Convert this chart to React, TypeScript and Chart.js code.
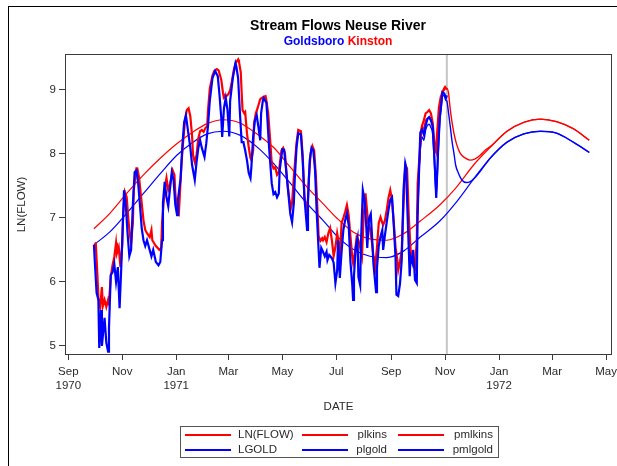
import React, { useEffect, useRef } from "react";
import { Chart, registerables } from "chart.js";

Chart.register(...registerables);

const FONT = "'Liberation Sans', Arial, Helvetica, sans-serif";
const RED = "#ff0000";
const BLUE = "#0000ff";
const AXIS = "#3a3a3a";
const TEXT = "#2a2a2a";

// Horizontal positions are days counted from 1 Sep 1970.
const MONTH_TICKS = [0, 61, 122, 181, 242, 303, 365, 426, 487, 547, 608];
const MONTH_LABELS: (string | string[])[] = [
  ["Sep", "1970"], "Nov", ["Jan", "1971"], "Mar", "May", "Jul", "Sep", "Nov", ["Jan", "1972"], "Mar", "May",
];
const Y_TICKS = [5, 6, 7, 8, 9];
const FORECAST_ORIGIN = 428;

// Goldsboro, log of daily flow
const LGOLD_DAYS = [
  29, 30, 32, 34, 35, 37, 38, 41, 43, 45, 46, 48, 50, 52, 54, 56, 57, 58, 60, 62,
  63, 65, 67, 69, 71, 73, 75, 77, 79, 81, 83, 85, 87, 89, 92, 94, 96, 99, 102, 104,
  106, 107, 109, 111, 113, 115, 117, 119, 121, 123, 124, 127, 129, 131, 133, 136, 138, 140, 143, 145,
  147, 149, 151, 154, 156, 158, 160, 163, 166, 169, 171, 173, 174, 176, 178, 180, 182, 183, 186, 189,
  190, 192, 194, 196, 198, 200, 202, 204, 206, 207, 209, 211, 213, 215, 217, 218, 220, 221, 224, 225,
  227, 230, 232, 234, 236, 238, 239, 242, 244, 246, 249, 251, 253, 255, 256, 258, 260, 263, 265, 267,
  270, 271, 273, 275, 277, 279, 281, 283, 284, 286, 288, 290, 292, 293, 295, 298, 300, 302, 304, 305,
  307, 309, 311, 313, 315, 317, 319, 321, 322, 323, 325, 327, 328, 330, 331, 333, 335, 337, 338, 340,
  342, 344, 345, 348, 349, 351, 353, 355, 356, 358, 360, 362, 364, 366, 368, 370, 371, 373, 375, 377,
  379, 381, 382, 383, 385, 386, 387, 389, 390, 392, 394, 395, 397, 398, 400, 402, 404, 406, 408, 410,
  412, 414, 416, 418, 420, 422, 423, 425, 427, 428,
];
const LGOLD = [
  6.58, 6.31, 5.83, 5.72, 4.97, 5.56, 5.0, 5.44, 5.05, 4.91, 5.28, 6.11, 6.15, 6.28, 6.0, 6.23, 5.91, 5.59, 6.26, 7.04,
  7.43, 7.2, 6.76, 6.4, 6.5, 7.2, 7.71, 7.74, 7.54, 7.2, 6.84, 6.65, 6.56, 6.65, 6.5, 6.4, 6.5, 6.31, 6.26, 6.31,
  6.65, 7.23, 7.56, 7.32, 7.18, 7.46, 7.71, 7.59, 7.2, 7.04, 7.28, 7.62, 8.13, 8.49, 8.6, 8.29, 8.09, 7.82, 7.59, 7.87,
  8.09, 8.21, 8.09, 7.95, 8.16, 8.44, 8.83, 9.18, 9.29, 9.21, 8.91, 8.55, 8.26, 8.71, 8.87, 8.68, 8.27, 8.83, 9.18, 9.41,
  9.36, 9.18, 8.65, 8.18, 8.18, 8.05, 7.9, 7.7, 7.62, 7.79, 8.26, 8.52, 8.6, 8.41, 8.21, 8.63, 8.83, 8.87, 8.79, 8.57,
  8.1, 7.54, 7.37, 7.4, 7.32, 7.38, 7.74, 8.07, 8.06, 7.79, 7.35, 7.06, 6.93, 7.23, 7.59, 8.09, 8.32, 8.3, 7.9, 7.31,
  6.81, 7.28, 7.9, 8.09, 8.05, 7.74, 7.04, 6.5, 6.22, 6.53, 6.47, 6.4, 6.47, 6.34, 6.42, 6.37, 6.3, 5.98, 6.18, 6.65,
  6.06, 6.47, 6.81, 6.96, 7.07, 6.89, 6.31, 5.97, 5.72, 6.09, 6.54, 6.68, 6.08, 5.95, 6.65, 7.43, 7.28, 6.84, 6.53, 6.99,
  7.06, 6.56, 6.28, 5.84, 6.22, 6.56, 6.71, 6.81, 6.5, 6.73, 6.93, 7.12, 7.28, 7.32, 6.89, 6.37, 5.8, 5.78, 5.97, 6.34,
  7.43, 7.85, 7.79, 7.28, 6.5, 6.09, 6.39, 6.3, 6.5, 6.03, 5.98, 7.09, 7.9, 8.33, 8.38, 8.3, 8.44, 8.54, 8.57, 8.52,
  8.43, 7.93, 7.31, 8.02, 8.55, 8.82, 8.96, 8.94, 8.87, 8.91,
];

// Kinston, log of daily flow
const LFLOW_DAYS = [
  31, 33, 34, 36, 38, 39, 41, 43, 45, 46, 48, 50, 52, 54, 55, 57, 59, 61, 62, 64,
  66, 68, 70, 71, 73, 74, 77, 78, 80, 83, 85, 87, 89, 92, 94, 95, 99, 103, 105, 106,
  108, 110, 111, 113, 114, 116, 118, 120, 121, 123, 125, 126, 128, 130, 132, 134, 136, 138, 140, 141,
  143, 145, 147, 149, 151, 153, 155, 157, 158, 160, 163, 165, 168, 170, 173, 175, 176, 179, 181, 183,
  185, 187, 189, 192, 193, 195, 196, 197, 199, 200, 202, 204, 206, 207, 209, 210, 212, 214, 217, 220,
  223, 224, 226, 228, 230, 232, 234, 236, 238, 241, 243, 245, 247, 250, 252, 253, 255, 258, 260, 263,
  265, 267, 269, 271, 272, 274, 276, 278, 280, 282, 283, 285, 287, 288, 290, 292, 294, 296, 298, 300,
  302, 304, 305, 307, 309, 311, 313, 315, 317, 319, 321, 322, 324, 326, 328, 330, 332, 334, 336, 337,
  339, 341, 343, 345, 347, 349, 351, 353, 355, 356, 358, 360, 362, 364, 366, 368, 370, 372, 373, 375,
  377, 379, 381, 383, 385, 387, 388, 390, 392, 394, 395, 397, 399, 400, 402, 404, 406, 408, 410, 412,
  414, 416, 417, 419, 421, 423, 425, 426, 428,
];
const LFLOW = [
  6.62, 6.08, 5.75, 5.61, 5.92, 5.62, 5.72, 5.61, 5.72, 5.67, 6.08, 6.26, 6.39, 6.61, 6.45, 6.54, 6.23, 6.58, 7.04, 7.4,
  7.32, 6.96, 6.7, 6.61, 6.92, 7.43, 7.77, 7.77, 7.63, 7.23, 6.96, 6.81, 6.76, 6.7, 6.81, 6.65, 6.56, 6.5, 6.53, 6.92,
  7.28, 7.54, 7.62, 7.43, 7.46, 7.59, 7.74, 7.67, 7.38, 7.12, 7.07, 7.32, 7.85, 8.21, 8.52, 8.68, 8.71, 8.58, 8.27, 7.98,
  7.87, 7.98, 8.24, 8.35, 8.37, 8.34, 8.4, 8.43, 8.68, 9.02, 9.22, 9.29, 9.32, 9.3, 9.15, 8.94, 8.87, 8.9, 8.93, 8.99,
  9.13, 9.3, 9.41, 9.47, 9.43, 9.27, 8.96, 8.68, 8.63, 8.65, 8.32, 8.1, 7.93, 7.9, 8.05, 8.47, 8.63, 8.71, 8.85, 8.88,
  8.9, 8.83, 8.63, 8.26, 7.85, 7.77, 7.79, 7.67, 7.71, 8.05, 8.09, 8.01, 7.63, 7.28, 7.17, 7.23, 7.63, 8.16, 8.37, 8.35,
  7.98, 7.31, 7.15, 7.28, 7.62, 8.01, 8.12, 8.05, 7.63, 7.04, 6.72, 6.64, 6.68, 6.65, 6.7, 6.62, 6.76, 6.84, 6.65, 6.4,
  6.54, 6.76, 6.68, 6.37, 6.92, 7.0, 7.09, 7.2, 7.04, 6.71, 6.4, 6.3, 6.45, 6.7, 6.65, 6.54, 6.4, 7.04, 7.38, 7.23,
  6.92, 6.84, 6.65, 6.4, 6.22, 6.54, 6.92, 7.01, 6.92, 6.89, 6.96, 7.12, 7.31, 7.43, 7.28, 6.92, 6.54, 6.34, 6.18, 6.31,
  6.5, 7.2, 7.82, 7.77, 7.01, 6.5, 6.42, 6.3, 6.23, 6.65, 7.54, 7.95, 8.37, 8.44, 8.52, 8.63, 8.65, 8.68, 8.63, 8.48,
  8.16, 8.05, 8.32, 8.72, 8.88, 8.96, 9.02, 9.04, 9.0,
];

// Seasonal fits
const SEASON_DAYS = [
  29, 47, 66, 85, 104, 123, 141, 157, 175, 194, 213, 232, 251, 270, 288, 304,
  322, 341, 360, 379, 398, 420, 439, 458, 477, 496, 515, 534, 552, 571, 589,
];
const PLKINS = [
  6.83, 7.07, 7.38, 7.67, 7.93, 8.16, 8.34, 8.47, 8.53, 8.48, 8.31, 8.1, 7.79, 7.48, 7.22, 6.99,
  6.78, 6.67, 6.65, 6.75, 6.95, 7.2, 7.48, 7.82, 8.1, 8.35, 8.49, 8.54, 8.5, 8.39, 8.21,
];
const PLGOLD = [
  6.58, 6.78, 7.07, 7.38, 7.69, 7.98, 8.18, 8.31, 8.35, 8.29, 8.11, 7.85, 7.54, 7.22, 6.96, 6.71,
  6.51, 6.4, 6.38, 6.48, 6.7, 6.95, 7.25, 7.6, 7.93, 8.18, 8.31, 8.35, 8.32, 8.18, 8.02,
];

// Model predictions and forecasts
const PMLKINS_DAYS = [
  395, 397, 399, 400, 402, 404, 406, 408, 410, 412, 414, 416, 417, 419, 421, 423, 425, 426, 428,
  430, 431, 433, 436, 439, 443, 449, 454, 460, 466, 471, 477, 496, 515, 534, 552, 571, 589,
];
const PMLKINS = [
  7.43, 7.87, 8.27, 8.35, 8.41, 8.52, 8.55, 8.57, 8.54, 8.4, 8.12, 8.01, 8.24, 8.65, 8.83, 8.94, 8.99, 9.02, 9.02,
  8.94, 8.8, 8.57, 8.32, 8.15, 8.01, 7.93, 7.9, 7.92, 7.98, 8.05, 8.11, 8.35, 8.49, 8.54, 8.5, 8.39, 8.21,
];
const PMLGOLD_DAYS = [
  395, 397, 399, 400, 402, 404, 406, 408, 410, 412, 414, 416, 418, 420, 422, 423, 425, 427, 428,
  430, 432, 434, 436, 438, 441, 445, 450, 454, 460, 466, 477, 496, 515, 534, 552, 571, 589,
];
const PMLGOLD = [
  7.04, 7.82, 8.21, 8.26, 8.21, 8.37, 8.44, 8.46, 8.41, 8.3, 7.82, 7.35, 7.93, 8.49, 8.77, 8.91, 8.9, 8.83, 8.82,
  8.63, 8.41, 8.18, 8.01, 7.82, 7.7, 7.59, 7.55, 7.56, 7.63, 7.73, 7.93, 8.18, 8.31, 8.35, 8.32, 8.18, 8.02,
];

const LEGEND_ITEMS = [
  { label: "LN(FLOW)", color: RED, col: 0, row: 0 },
  { label: "LGOLD", color: BLUE, col: 0, row: 1 },
  { label: "plkins", color: RED, col: 1, row: 0 },
  { label: "plgold", color: BLUE, col: 1, row: 1 },
  { label: "pmlkins", color: RED, col: 2, row: 0 },
  { label: "pmlgold", color: BLUE, col: 2, row: 1 },
];

const toPoints = (days: number[], vals: number[]) =>
  days.map((d, i) => ({ x: d, y: vals[i] }));

const framePlugin = {
  id: "frameAndOrigin",
  beforeDatasetsDraw(chart: any) {
    const { ctx, chartArea, scales } = chart;
    const x = scales.x.getPixelForValue(FORECAST_ORIGIN);
    ctx.save();
    ctx.strokeStyle = "#c6c6c6";
    ctx.lineWidth = 2;
    ctx.beginPath();
    ctx.moveTo(x, chartArea.top);
    ctx.lineTo(x, chartArea.bottom);
    ctx.stroke();
    ctx.restore();
  },
  afterDatasetsDraw(chart: any) {
    const { ctx, chartArea: a } = chart;
    ctx.save();
    ctx.strokeStyle = AXIS;
    ctx.lineWidth = 1;
    ctx.strokeRect(Math.round(a.left) - 0.5, Math.round(a.top) - 0.5,
      Math.round(a.right - a.left) + 1, Math.round(a.bottom - a.top) + 1);
    ctx.restore();
  },
};

function FlowChart() {
  const canvasRef = useRef<HTMLCanvasElement | null>(null);

  useEffect(() => {
    const canvas = canvasRef.current;
    if (!canvas) return;
    const tickFont = { family: FONT, size: 11.5 };
    const thick = (label: string, color: string, days: number[], vals: number[]) => ({
      label, data: toPoints(days, vals), borderColor: color, borderWidth: 2.2,
      pointRadius: 0, tension: 0, fill: false,
    });
    const smooth = (label: string, color: string, days: number[], vals: number[], w: number) => ({
      label, data: toPoints(days, vals), borderColor: color, borderWidth: w,
      pointRadius: 0, cubicInterpolationMode: "monotone" as const, fill: false,
    });

    const chart = new Chart(canvas, {
      type: "line",
      data: {
        datasets: [
          thick("LGOLD", BLUE, LGOLD_DAYS, LGOLD),
          thick("LN(FLOW)", RED, LFLOW_DAYS, LFLOW),
          smooth("pmlgold", BLUE, PMLGOLD_DAYS, PMLGOLD, 1.4),
          smooth("pmlkins", RED, PMLKINS_DAYS, PMLKINS, 1.4),
          smooth("plgold", BLUE, SEASON_DAYS, PLGOLD, 1.2),
          smooth("plkins", RED, SEASON_DAYS, PLKINS, 1.2),
        ] as any,
      },
      options: {
        animation: false,
        responsive: false,
        events: [],
        layout: { padding: { left: 0, top: 55, right: 6, bottom: 52 } },
        plugins: {
          legend: { display: false },
          title: { display: false },
          tooltip: { enabled: false },
        },
        scales: {
          x: {
            type: "linear",
            min: -2.6,
            max: 613.6,
            afterBuildTicks: (s: any) => {
              s.ticks = MONTH_TICKS.map((v) => ({ value: v }));
            },
            afterFit: (s: any) => {
              s.height = 60;
              s.paddingLeft = 0;
              s.paddingRight = 0;
            },
            grid: { drawOnChartArea: false, drawTicks: true, tickLength: 6, color: AXIS },
            border: { display: false },
            ticks: {
              autoSkip: false,
              maxRotation: 0,
              padding: 5,
              color: TEXT,
              font: tickFont,
              callback: (_v: any, i: number) => MONTH_LABELS[i],
            },
            title: { display: true, text: "DATE", color: TEXT, font: tickFont, padding: 0 },
          },
          y: {
            type: "linear",
            min: 4.875,
            max: 9.54,
            afterBuildTicks: (s: any) => {
              s.ticks = Y_TICKS.map((v) => ({ value: v }));
            },
            afterFit: (s: any) => {
              s.width = 66;
              s.paddingTop = 0;
              s.paddingBottom = 0;
            },
            grid: { drawOnChartArea: false, drawTicks: true, tickLength: 7, color: AXIS },
            border: { display: false },
            ticks: {
              padding: 3,
              color: TEXT,
              font: tickFont,
              callback: (v: any) => String(v),
            },
            title: {
              display: true, text: "LN(FLOW)", color: TEXT, font: tickFont,
              padding: { top: 15, bottom: 0 },
            },
          },
        },
      } as any,
      plugins: [framePlugin],
    });
    return () => chart.destroy();
  }, []);

  return <canvas ref={canvasRef} width={617} height={466} style={{ position: "absolute", left: 0, top: 0 }} />;
}

export default function App() {
  const colX = [185, 302, 398];
  const textLeft = [238, null, null];
  const textRight = [null, 387, 493];
  const rowY = [434, 449];
  return (
    <div style={{ position: "fixed", left: 0, top: 0, width: 617, height: 466, overflow: "hidden", background: "#fff", fontFamily: FONT }}>
      <div style={{ position: "absolute", left: 8, top: 6, width: 800, height: 800, borderLeft: "1px solid #000", borderTop: "1px solid #000" }} />
      <FlowChart />
      <div style={{ position: "absolute", left: 188, width: 300, top: 17, lineHeight: "16px", fontSize: 14, fontWeight: "bold", textAlign: "center", color: "#000" }}>
        Stream Flows Neuse River
      </div>
      <div style={{ position: "absolute", left: 188, width: 300, top: 34, lineHeight: "14px", fontSize: 12, fontWeight: "bold", textAlign: "center" }}>
        <span style={{ color: BLUE }}>Goldsboro</span> <span style={{ color: RED }}>Kinston</span>
      </div>
      <div style={{ position: "absolute", left: 180, top: 426, width: 317, height: 30, border: "1px solid #555" }} />
      {LEGEND_ITEMS.map((it) => (
        <React.Fragment key={it.label}>
          <div style={{ position: "absolute", left: colX[it.col], top: rowY[it.row], width: 46, height: 1.5, background: it.color }} />
          <div
            style={{
              position: "absolute",
              top: rowY[it.row] - 7,
              lineHeight: "14px",
              fontSize: 11.5,
              color: TEXT,
              whiteSpace: "nowrap",
              ...(textLeft[it.col] !== null
                ? { left: textLeft[it.col] as number }
                : { right: 617 - (textRight[it.col] as number) }),
            }}
          >
            {it.label}
          </div>
        </React.Fragment>
      ))}
    </div>
  );
}
